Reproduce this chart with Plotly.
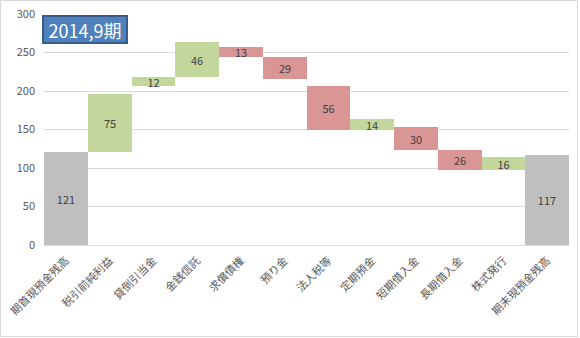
import plotly.graph_objects as go

categories = ["期首現預金残高", "税引前純利益", "貸倒引当金", "金銭信託", "求償債権", "預り金",
              "法人税等", "定期預金", "短期借入金", "長期借入金", "株式発行", "期末現預金残高"]
values = [121, 75, 12, 46, 13, 29, 56, 14, 30, 26, 16, 117]
bar_bottoms = [0, 121, 206, 218, 244, 215, 150, 150, 123, 97, 97, 0]
bar_tops = [121, 196, 218, 264, 257, 244, 206, 164, 153, 123, 114, 117]
kinds = ["total", "up", "up", "up", "down", "down", "down", "up", "down", "down", "up", "total"]

kind_colors = {"total": "#BFBFBF", "up": "#C3D69B", "down": "#D99694"}
colors = [kind_colors[k] for k in kinds]
heights = [t - b for t, b in zip(bar_tops, bar_bottoms)]

FONT = "Noto Sans CJK JP"

fig = go.Figure(go.Bar(
    x=categories, y=heights, base=bar_bottoms,
    marker=dict(color=colors, line=dict(width=0)),
    text=[str(v) for v in values], textposition="inside",
    insidetextanchor="middle", textangle=0, constraintext="none",
    textfont=dict(family=FONT, size=11, color="#404040"),
    hoverinfo="skip",
))

L, R, T, B = 44, 11, 14, 93
W, H = 580, 338
pw, ph = W - L - R, H - T - B

fig.update_layout(
    width=W, height=H, margin=dict(l=L, r=R, t=T, b=B),
    paper_bgcolor="white", plot_bgcolor="white",
    bargap=0, showlegend=False,
    uniformtext=dict(minsize=11, mode="show"),
    font=dict(family=FONT, color="#595959", size=11),
    xaxis=dict(tickangle=-45, showgrid=False, showline=False, ticks="", automargin=False,
               ticklabelstandoff=6,
               tickfont=dict(family=FONT, size=11, color="#595959")),
    yaxis=dict(range=[0, 300], dtick=50, showgrid=True, gridcolor="#D9D9D9",
               zeroline=True, zerolinecolor="#D9D9D9", zerolinewidth=1,
               showline=False, ticks="", ticklabelstandoff=8, automargin=False,
               tickfont=dict(family=FONT, size=11, color="#595959")),
    shapes=[dict(type="rect", xref="paper", yref="paper",
                 x0=(0.5 - L) / pw, x1=(W - 2.5 - L) / pw,
                 y0=(T + ph - (H - 1.5)) / ph, y1=(T + ph - 0.5) / ph,
                 line=dict(color="#D9D9D9", width=1), fillcolor="rgba(0,0,0,0)", layer="below")],
    annotations=[dict(text="2014,9期", xref="paper", yref="paper",
                      x=(42 - L) / pw, y=(T + ph - 15) / ph, xanchor="left", yanchor="top",
                      showarrow=False, bgcolor="#4F81BD", bordercolor="#385D8A",
                      borderwidth=2, borderpad=1, width=80, height=23,
                      font=dict(family=FONT, size=18, color="white"))],
)

fig.write_html("out.html")
